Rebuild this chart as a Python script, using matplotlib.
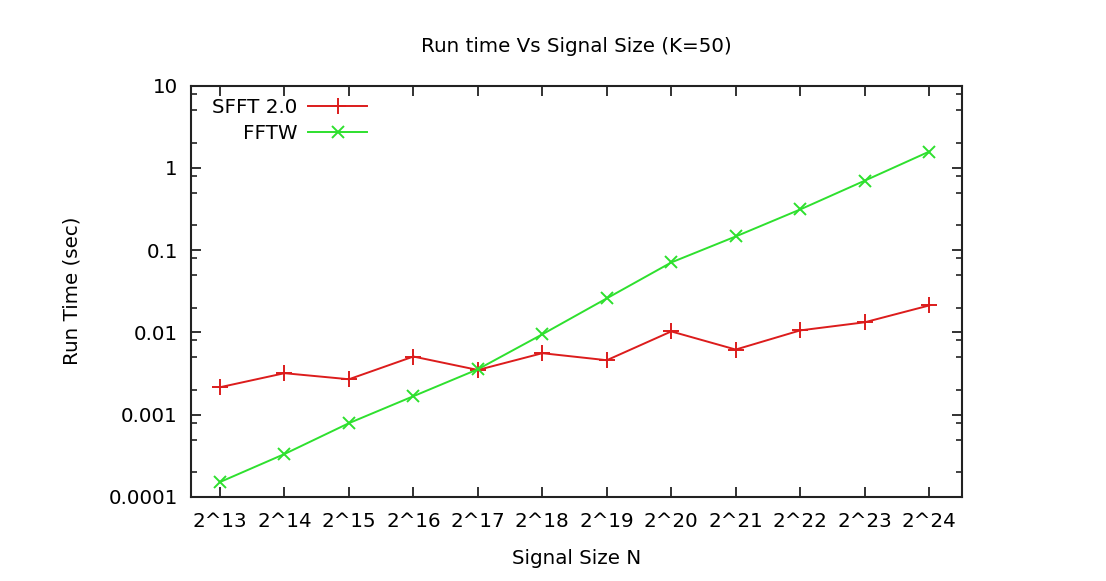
import matplotlib
matplotlib.use("Agg")
import matplotlib.pyplot as plt
from matplotlib.ticker import LogLocator, NullFormatter, FixedLocator

plt.rcParams['font.family'] = ['DejaVu Sans']

categories = ["2^13", "2^14", "2^15", "2^16", "2^17", "2^18",
              "2^19", "2^20", "2^21", "2^22", "2^23", "2^24"]
sfft = [0.00216, 0.0032, 0.0027, 0.0051, 0.0035, 0.0056,
        0.0046, 0.0103, 0.0062, 0.0106, 0.0133, 0.0213]
fftw = [0.000152, 0.000333, 0.00079, 0.00168, 0.00357, 0.0095,
        0.026, 0.071, 0.147, 0.313, 0.70, 1.58]
ytick_vals = [0.0001, 0.001, 0.01, 0.1, 1, 10]
ytick_labels = ["0.0001", "0.001", "0.01", "0.1", "1", "10"]

W, H = 1106, 581
FS = 14.3
fig = plt.figure(figsize=(W / 100, H / 100), dpi=100)
L, R, T, B = 191, 962, 85.7, 497
ax = fig.add_axes([L / W, 1 - B / H, (R - L) / W, (B - T) / H])

x = list(range(len(categories)))
ax.plot(x, sfft, color='#dc1c1c', lw=1.4, marker='+', ms=11, mew=1.4,
        label='SFFT 2.0')
ax.plot(x, fftw, color='#2ee02e', lw=1.4, marker='x', ms=8.5, mew=1.4,
        label='FFTW')

ax.set_yscale('log')
ax.set_ylim(0.0001, 10)
ax.set_xlim(-0.45, 11.51)
ax.yaxis.set_major_locator(FixedLocator(ytick_vals))
ax.set_yticklabels(ytick_labels)
ax.yaxis.set_minor_locator(LogLocator(base=10, subs=(2, 5, 8)))
ax.yaxis.set_minor_formatter(NullFormatter())
ax.set_xticks(x)
ax.set_xticklabels(categories)

for s in ax.spines.values():
    s.set_linewidth(1.5)
    s.set_color('#222222')
ax.tick_params(axis='both', which='major', direction='in', length=7.5,
               width=1.3, top=True, right=True, labelsize=FS, colors='#222222',
               labelcolor='black')
ax.tick_params(axis='y', which='major', pad=9.5)
ax.tick_params(axis='x', which='major', pad=10.5)
ax.tick_params(axis='y', which='minor', direction='in', length=4,
               width=1.2, right=True, colors='#222222')

leg = ax.legend(loc='upper right', frameon=False, markerfirst=False,
                fontsize=FS, handlelength=2.95, handletextpad=0.55,
                labelspacing=0.36, borderaxespad=0, borderpad=0,
                bbox_to_anchor=(367 / W, 1 - 98 / H),
                bbox_transform=fig.transFigure)

cx = (L + R) / 2 / W
fig.text(cx, 1 - 46 / H, "Run time Vs Signal Size (K=50)", ha='center',
         va='center', fontsize=FS)
fig.text(cx, 1 - 558 / H, "Signal Size N", ha='center', va='center',
         fontsize=FS)
fig.text(72 / W, 1 - 291 / H, "Run Time (sec)", ha='center', va='center',
         rotation=90, fontsize=FS)

fig.savefig("out.png", dpi=100)
